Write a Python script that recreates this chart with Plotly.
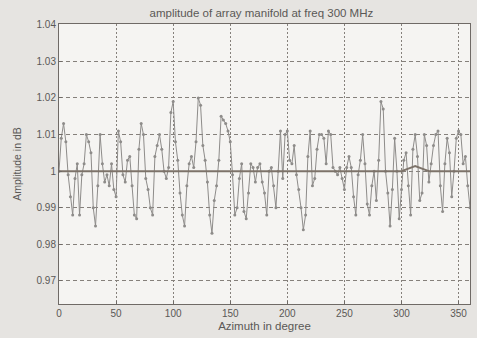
import plotly.graph_objects as go

azimuth = list(range(0, 362, 2))
amplitude = [
    1.000, 1.009, 1.013, 1.008, 0.999, 0.993, 0.988, 0.998, 1.002, 0.988,
    0.999, 1.002, 1.010, 1.008, 1.005, 0.990, 0.985, 0.996, 1.010, 1.002,
    0.997, 0.999, 0.996, 1.002, 0.995, 0.993, 1.011, 1.008, 0.999, 0.997,
    1.003, 1.004, 0.996, 0.988, 0.987, 1.006, 1.013, 1.010, 0.998, 0.995,
    0.990, 0.988, 1.004, 1.007, 1.010, 1.006, 1.000, 0.998, 1.001, 1.016,
    1.019, 1.008, 1.003, 0.994, 0.988, 0.985, 0.996, 1.002, 1.004, 1.001,
    1.008, 1.020, 1.018, 1.007, 1.003, 0.997, 0.988, 0.983, 0.992, 0.996,
    1.003, 1.015, 1.014, 1.013, 1.011, 1.008, 0.999, 0.988, 0.990, 0.998,
    1.002, 0.989, 0.987, 0.994, 1.002, 1.001, 0.997, 1.001, 1.002, 0.997,
    0.994, 0.988, 1.000, 1.001, 0.996, 0.990, 1.000, 1.011, 0.998, 1.010,
    1.011, 1.003, 1.002, 1.007, 0.999, 0.995, 0.990, 0.984, 0.988, 1.004,
    1.011, 0.996, 0.998, 1.006, 1.010, 1.010, 1.009, 1.002, 1.011, 1.010,
    1.001, 1.000, 0.999, 1.001, 0.998, 0.995, 1.001, 1.004, 1.001, 0.993,
    0.988, 0.999, 1.003, 1.010, 1.002, 0.991, 0.988, 0.996, 1.000, 0.992,
    1.003, 1.019, 1.017, 1.000, 0.994, 0.985, 0.995, 1.009, 1.000, 0.987,
    0.995, 1.003, 1.005, 0.996, 0.988, 1.006, 1.010, 1.004, 0.992, 0.994,
    1.010, 1.007, 0.997, 1.002, 1.007, 1.010, 1.011, 0.996, 0.989, 1.002,
    1.009, 1.005, 0.993, 1.000, 1.009, 1.011, 1.010, 1.002, 1.004, 0.996,
    0.990,
]

ref_azimuth = [0, 60, 120, 160, 200, 240, 300, 306, 312, 318, 324, 340, 360]
ref_amplitude = [1.000, 1.000, 1.000, 1.000, 1.000, 1.000, 1.000, 1.0007, 1.0014,
                 1.0007, 1.000, 1.000, 1.000]

y_ticks = [0.97, 0.98, 0.99, 1.00, 1.01, 1.02, 1.03, 1.04]
y_tick_labels = ["0.97", "0.98", "0.99", "1", "1.01", "1.02", "1.03", "1.04"]
x_ticks = [0, 50, 100, 150, 200, 250, 300, 350]

fig = go.Figure()
fig.add_trace(go.Scatter(
    x=azimuth, y=amplitude, mode="lines+markers",
    line=dict(color="#8e8c8a", width=1),
    marker=dict(color="#8e8c8a", size=3),
    showlegend=False,
))
fig.add_trace(go.Scatter(
    x=ref_azimuth, y=ref_amplitude, mode="lines",
    line=dict(color="#7d736a", width=2),
    showlegend=False,
))

font = dict(family="Liberation Sans, Arial, sans-serif", size=10, color="#5a5856")

fig.update_layout(
    width=477, height=338,
    margin=dict(l=59, r=7, t=24, b=34),
    paper_bgcolor="#e6e4e1",
    plot_bgcolor="#f5f4f2",
    font=font,
    title=dict(text="amplitude of array manifold at freq 300 MHz",
               x=0.548, xanchor="center", y=0.962, yanchor="middle",
               font=dict(size=11.5, color="#5a5856")),
    xaxis=dict(
        range=[0, 360], tickvals=x_ticks, showgrid=True,
        gridcolor="#85807b", griddash="2px,2px", gridwidth=1,
        showline=True, linecolor="#6f6a66", linewidth=1, mirror=True,
        ticks="inside", ticklen=3, tickcolor="#6f6a66",
        zeroline=False,
        title=dict(text="Azimuth in degree", standoff=3, font=dict(size=11.5)),
    ),
    yaxis=dict(
        range=[0.9637, 1.0402], tickvals=y_ticks, ticktext=y_tick_labels,
        showgrid=True, gridcolor="#85807b", griddash="4px,3px", gridwidth=1,
        showline=True, linecolor="#6f6a66", linewidth=1, mirror=True,
        ticks="inside", ticklen=3, tickcolor="#6f6a66",
        zeroline=False,
        title=dict(text="Amplitude in dB", standoff=12, font=dict(size=10.5)),
    ),
)

fig.write_html("out.html")
